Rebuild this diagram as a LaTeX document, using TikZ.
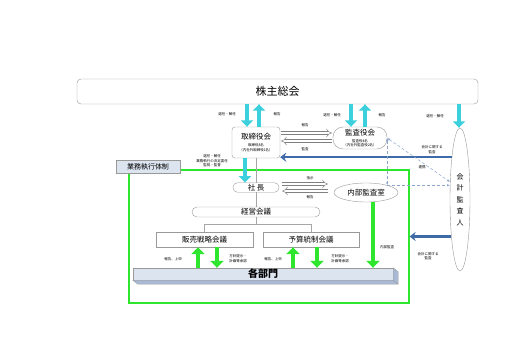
\documentclass[tikz,border=0pt]{standalone}
\usepackage{fontspec}
\setmainfont{Noto Sans CJK JP}
\usetikzlibrary{arrows.meta, positioning, shapes.geometric, calc}
\definecolor{aqua}{HTML}{3CCFDC}
\definecolor{lime}{HTML}{2EE62E}
\definecolor{navy}{HTML}{3F6AA8}
\definecolor{boxfill}{HTML}{DCE4F0}
\definecolor{bevel}{HTML}{A9B8D3}

\begin{document}
\begin{tikzpicture}[x=1pt, y=-1pt,
  box/.style={draw=gray!80, fill=white, inner sep=0pt, align=center, font=\fontsize{7.5}{9}\selectfont},
  rbox/.style={box, rounded corners=4pt},
  tag/.style={inner sep=0pt, align=center, font=\fontsize{3.5}{4.5}\selectfont},
  aquaarr/.style={draw=aqua, line width=4.5pt, -{Triangle[width=12pt, length=6.5pt]}},
  limearr/.style={draw=lime, line width=4pt, -{Triangle[width=13pt, length=7pt]}},
  navyarr/.style={draw=navy, line width=2.5pt, -{Stealth[width=9pt, length=6pt, inset=2pt]}},
  hollow/.style={draw=gray, double=white, double distance=2.5pt, line width=0.5pt, -{Implies}},
  link/.style={draw=navy!60, densely dashed, line width=0.5pt},
  org/.style={draw=gray!70, line width=0.5pt}
]
\useasboundingbox (0,0) rectangle (515,364);

% frame of the executive structure
\node[draw=lime, line width=1.2pt, minimum width=280pt, minimum height=133pt, inner sep=0pt] (F) at (269,236.5) {};
\node[box, fill=boxfill, minimum width=64pt, minimum height=13pt, font=\fontsize{7}{8}\selectfont] (E) at (148,166.5) {業務執行体制};

% bodies
\node[rbox, minimum width=401pt, minimum height=25pt, font=\fontsize{11}{13}\selectfont] (G) at (277.5,91.5) {株主総会};
\node[rbox, rounded corners=3pt, minimum width=48pt, minimum height=31pt, font=\fontsize{3.5}{4.5}\selectfont] (B) at (256,142.5)
  {{\fontsize{7.5}{8}\selectfont 取締役会}\\[3pt] 取締役8名\\（内社外取締役1名）};
\node[rbox, rounded corners=10pt, minimum width=54pt, minimum height=22pt, font=\fontsize{3.5}{4.5}\selectfont] (K) at (360,138)
  {{\fontsize{7.5}{8}\selectfont 監査役会}\\[2.5pt] 監査役4名\\（内社外監査役2名）};
\node[ellipse, draw=gray!80, fill=white, minimum width=20pt, minimum height=143pt, inner sep=0pt, align=center,
  font=\fontsize{7}{11.5}\selectfont] (A) at (460,199.5) {会\\計\\監\\査\\人};
\node[rbox, rounded corners=4.5pt, minimum width=46pt, minimum height=9.5pt] (C) at (256,187.5) {社\hspace{1.5pt}長};
\node[ellipse, draw=gray!80, fill=white, minimum width=64pt, minimum height=19pt, inner sep=0pt, font=\fontsize{7.5}{9}\selectfont] (I) at (366,192.5) {内部監査室};
\node[rbox, rounded corners=5pt, minimum width=128pt, minimum height=10pt] (M) at (256,212) {経営会議};
\node[box, minimum width=97pt, minimum height=15pt] (S) at (204.5,239.5) {販売戦略会議};
\node[box, minimum width=96pt, minimum height=15pt] (U) at (311,239.5) {予算統制会議};
\node[box, fill=boxfill, minimum width=260pt, minimum height=12pt, font=\fontsize{10}{12}\selectfont\bfseries] (D) at (263,274) {各部門};
\filldraw[fill=bevel, draw=gray!80, line width=0.3pt] (D.south west) -- (D.south east) -- ++(5,4) -- ($(D.south west)+(5,4)$) -- cycle;
\filldraw[fill=bevel, draw=gray!80, line width=0.3pt] (D.north east) -- ++(5,4) -- ++(0,12) -- (D.south east) -- cycle;

% org lines
\draw[org] (B.south) -- (C.north);
\draw[org] (C.south) -- (M.north);
\draw[org] (M.south) -- ++(0,7) coordinate (J) -| (S.north);
\draw[org] (J) -| (U.north);

% shareholders' meeting
\coordinate (b1) at ($(B.north)+(-9,0)$);
\coordinate (b2) at ($(B.north)+(3,0)$);
\coordinate (k1) at ($(K.north)+(-9,0)$);
\coordinate (k2) at ($(K.north)+(5,0)$);
\coordinate (a1) at ($(A.north)+(-1,0)$);
\coordinate (b3) at ($(B.south)+(-11,0)$);
\draw[aquaarr] (b1 |- G.south) -- (b1);
\draw[aquaarr] (b2) -- (b2 |- G.south);
\draw[aquaarr] (k1 |- G.south) -- (k1);
\draw[aquaarr] (k2) -- (k2 |- G.south);
\draw[aquaarr] (a1 |- G.south) -- (a1);
\draw[aquaarr] (b3) -- (b3 |- C.north);

% reports and audits
\draw[hollow] ($(B.east)+(1,-9.5)$) -- ($(K.west)+(-1,-5)$);
\draw[hollow] ($(K.west)+(-1,3)$) -- ($(B.east)+(1,-1.5)$);
\draw[hollow] ($(C.east)+(3,-3.5)$) -- ($(I.west)+(-6,-8.5)$);
\draw[hollow] ($(I.west)+(-6,-1.5)$) -- ($(C.east)+(3,3.5)$);
\draw[navyarr] ($(B.south east -| A.west)+(2,-1)$) -- ($(B.south east)+(0,-1)$);
\draw[navyarr] ($(F.east -| A.west)+(1.5,0)$) -- (F.east);

% cooperation
\coordinate (j1) at ($(K.east |- I.north)+(0,2.5)$);
\draw[link, {Latex[length=3pt]}-{Latex[length=3pt]}] (K.east) -- ($(A.west)+(0.3,-17.5)$);
\draw[link, {Latex[length=3pt]}-{Latex[length=3pt]}] (K.east) -- (j1);
\draw[link, -{Latex[length=3pt]}] (j1) -- ($(j1 -| A.west)+(0.2,0)$);

% departments
\coordinate (s1) at ($(S.south)+(-6.5,0)$);
\coordinate (s2) at ($(S.south)+(12.5,0)$);
\coordinate (u1) at ($(U.south)+(-18,0)$);
\coordinate (u2) at ($(U.south)+(6,0)$);
\coordinate (i1) at ($(I.south)+(7,-0.2)$);
\draw[limearr] (s1 |- D.north) -- (s1);
\draw[limearr] (s2) -- (s2 |- D.north);
\draw[limearr] (u1 |- D.north) -- (u1);
\draw[limearr] (u2) -- (u2 |- D.north);
\draw[limearr] (i1) -- (i1 |- D.north);

% labels
\node[tag] (t1) at (227,114) {選任・解任};
\node[tag] (t2) at (277,114) {報告};
\node[tag] (t3) at (305,125) {報告};
\node[tag] (t4) at (305,149) {監査};
\node[tag] (t5) at (332,115) {選任・解任};
\node[tag] (t6) at (382,115) {報告};
\node[tag] (t7) at (435,116) {選任・解任};
\node[tag] (t8) at (432,149.5) {会計に関する\\監査};
\node[tag] (t9) at (422,167) {連携};
\node[tag] (t10) at (212,161) {選任・解任\\業務執行の決定委任\\監視・監督};
\node[tag] (t11) at (310,178) {指示};
\node[tag] (t12) at (310,197) {報告};
\node[tag] (t13) at (173,259) {報告、上申};
\node[tag] (t14) at (238,258.5) {方針提示・\\計画等承認};
\node[tag] (t15) at (273,259) {報告、上申};
\node[tag] (t16) at (340,258.5) {方針提示・\\計画等承認};
\node[tag] (t17) at (387,247) {内部監査};
\node[tag] (t18) at (428,256) {会計に関する\\監査};
\end{tikzpicture}
\end{document}
